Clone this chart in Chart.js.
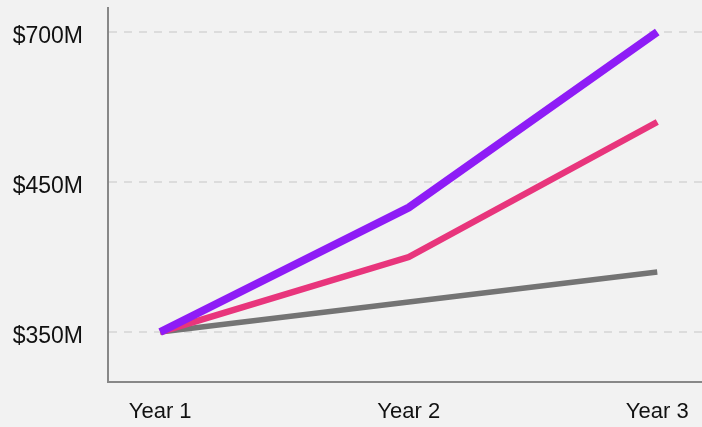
<!DOCTYPE html>
<html>
<head>
<meta charset="utf-8">
<script src="https://cdn.jsdelivr.net/npm/chart.js@4"></script>
<style>
  html, body { margin: 0; padding: 0; background: #f2f2f2; }
  #wrap { width: 702px; height: 427px; }
</style>
</head>
<body>
<div id="wrap"><canvas id="chart"></canvas></div>
<script>
// --- data ---
const years = ['Year 1', 'Year 2', 'Year 3'];
const tickValues = [350, 450, 700];           // $M, evenly spaced on the axis
const tickLabels = ['$350M', '$450M', '$700M'];
const purpleSeries = [350, 433, 700];
const pinkSeries = [350, 400, 550];
const graySeries = [350, 370, 390];

// the axis is not linear in $M: map each value piecewise between the ticks
function toAxis(v) {
    for (let i = 0; i < tickValues.length - 1; i++) {
        const a = tickValues[i], b = tickValues[i + 1];
        if (v <= b || i === tickValues.length - 2) return i + (v - a) / (b - a);
    }
    return 0;
}
const points = arr => arr.map((v, i) => ({ x: i, y: toAxis(v) }));

const ds = (data, color, width) => ({
    data: points(data),
    borderColor: color,
    borderWidth: width,
    pointRadius: 0,
    tension: 0,
    fill: false
});

new Chart(document.getElementById('chart'), {
    type: 'line',
    data: {
        datasets: [
            ds(purpleSeries, '#8e1cf6', 8),
            ds(pinkSeries, '#e8357c', 6.5),
            ds(graySeries, '#747474', 5.5)
        ]
    },
    options: {
        responsive: true, maintainAspectRatio: false, animation: false,
        layout: { padding: { top: 8, right: 0, left: 0, bottom: 0 } },
        plugins: { legend: { display: false }, tooltip: { enabled: false } },
        scales: {
            x: {
                type: 'linear', min: -0.21, max: 2.18,
                afterBuildTicks: s => { s.ticks = years.map((_, i) => ({ value: i })); },
                afterFit: s => { s.height = 45; s.paddingLeft = 0; s.paddingRight = 0; },
                ticks: {
                    callback: v => years[v],
                    color: '#111', padding: 17,
                    font: { family: 'Liberation Sans', size: 22 },
                    maxRotation: 0
                },
                grid: { display: false, drawTicks: false },
                border: { color: '#888', width: 2 }
            },
            y: {
                min: -0.333, max: 2.16,
                afterBuildTicks: s => { s.ticks = tickValues.map((_, i) => ({ value: i })); },
                afterFit: s => { s.width = 108; s.paddingTop = 0; s.paddingBottom = 0; },
                ticks: {
                    callback: v => tickLabels[v],
                    color: '#111', padding: 0, labelOffset: 5,
                    font: { family: 'Liberation Sans', size: 23 }
                },
                grid: {
                    color: '#dcdcdc', lineWidth: 2,
                    drawTicks: true, tickLength: 25, tickColor: 'rgba(0,0,0,0)'
                },
                border: { color: '#888', width: 2, dash: [8, 7] }
            }
        }
    }
});
</script>
</body>
</html>
